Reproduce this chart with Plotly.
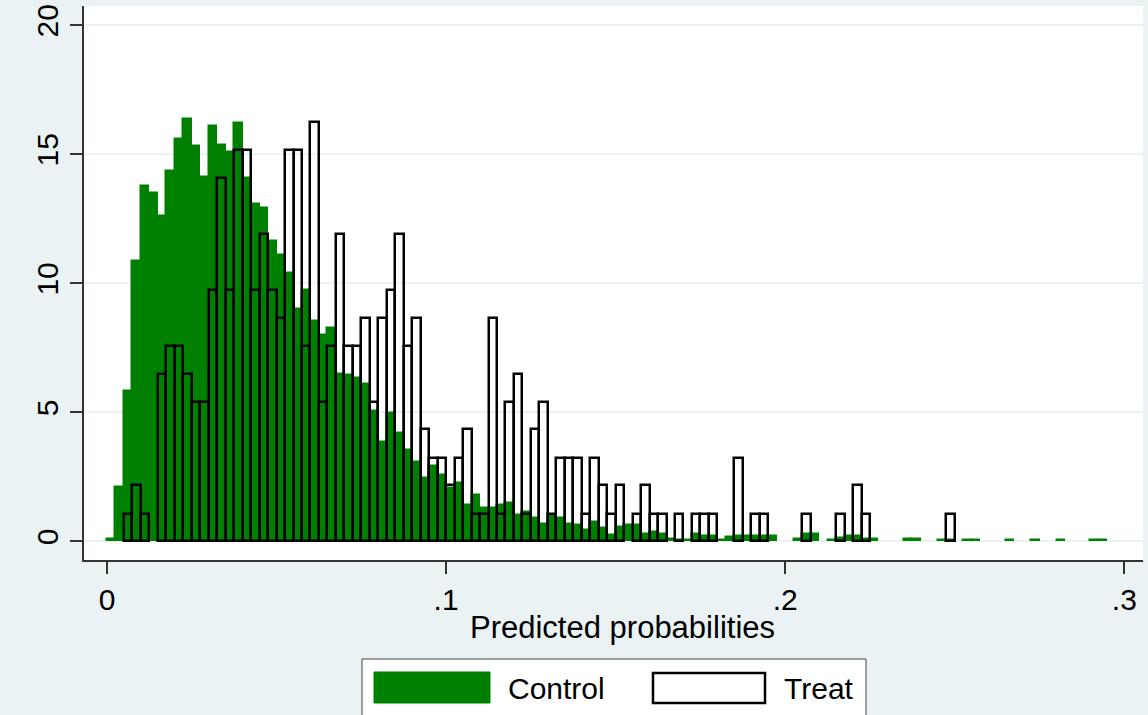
import plotly.graph_objects as go

# Histogram bins: width 0.0025 starting at 0 (predicted probability)
BIN_WIDTH = 0.0025
BIN_START = 0.0

# Density heights per bin, control group
control_density = [
    0.10, 2.11, 5.84, 10.86, 13.79, 13.49, 12.60, 14.37, 15.59, 16.38,
    15.33, 14.14, 16.10, 15.37, 15.11, 16.21, 14.07, 13.06, 12.94, 11.65,
    11.09, 10.41, 9.01, 9.73, 8.56, 7.99, 8.26, 6.50, 6.45, 6.33,
    6.11, 5.06, 3.85, 4.99, 4.20, 3.55, 3.06, 2.45, 2.92, 2.57,
    2.08, 2.27, 1.43, 1.78, 1.30, 1.30, 1.43, 1.49, 1.01, 1.14,
    0.91, 0.67, 0.97, 0.91, 0.67, 0.62, 0.45, 0.74, 0.52, 0.23,
    0.56, 0.62, 0.62, 0.29, 0.35, 0.29, 0.10, 0.06, 0.06, 0.27,
    0.22, 0.22, 0.07, 0.17, 0.22, 0.22, 0.22, 0.22, 0.22, 0.00,
    0.00, 0.10, 0.29, 0.29, 0.00, 0.07, 0.13, 0.22, 0.22, 0.10,
    0.10, 0.00, 0.00, 0.00, 0.10, 0.10, 0.00, 0.00, 0.05, 0.05,
    0.00, 0.05, 0.05, 0.00, 0.00, 0.00, 0.05, 0.00, 0.00, 0.05,
    0.00, 0.00, 0.05, 0.00, 0.00, 0.00, 0.05, 0.05,
]

# Density heights per bin, treated group
treat_density = [
    0.00, 0.00, 1.08, 2.17, 1.08, 0.00, 6.50, 7.59, 7.59, 6.50,
    5.42, 5.42, 9.76, 14.09, 9.76, 15.18, 15.18, 9.76, 11.92, 9.76,
    8.67, 15.18, 15.18, 7.59, 16.26, 5.42, 7.59, 11.92, 7.59, 7.59,
    8.67, 5.42, 8.67, 9.76, 11.92, 7.59, 8.67, 4.34, 3.25, 3.25,
    2.17, 3.25, 4.34, 1.08, 1.08, 8.67, 1.08, 5.42, 6.50, 1.08,
    4.34, 5.42, 1.08, 3.25, 3.25, 3.25, 1.08, 3.25, 2.17, 1.08,
    2.17, 0.00, 1.08, 2.17, 1.08, 1.08, 0.00, 1.08, 0.00, 1.08,
    1.08, 1.08, 0.00, 0.00, 3.25, 0.00, 1.08, 1.08, 0.00, 0.00,
    0.00, 0.00, 1.08, 0.00, 0.00, 0.00, 1.08, 0.00, 2.17, 1.08,
    0.00, 0.00, 0.00, 0.00, 0.00, 0.00, 0.00, 0.00, 0.00, 1.08,
]

x_tick_vals = [0, 0.1, 0.2, 0.3]
x_tick_text = ["0", ".1", ".2", ".3"]
y_tick_vals = [0, 5, 10, 15, 20]
y_tick_text = ["0", "5", "10", "15", "20"]

x_title = "Predicted probabilities"
legend_labels = ["Control", "Treat"]

GREEN = "#008000"
BG = "#EAF2F3"
FONT = "Arial, Liberation Sans, sans-serif"


def nonzero_bins(heights):
    xs, ys = [], []
    for i, h in enumerate(heights):
        if h > 0:
            xs.append(BIN_START + (i + 0.5) * BIN_WIDTH)
            ys.append(h)
    return xs, ys


cx, cy = nonzero_bins(control_density)
tx, ty = nonzero_bins(treat_density)

fig = go.Figure()
fig.add_trace(go.Bar(
    x=cx, y=cy, width=[BIN_WIDTH] * len(cx),
    marker=dict(color=GREEN, line=dict(color=GREEN, width=1.5)),
    name=legend_labels[0], showlegend=False,
))
fig.add_trace(go.Bar(
    x=tx, y=ty, width=[BIN_WIDTH] * len(tx),
    marker=dict(color="rgba(0,0,0,0)", line=dict(color="black", width=2.5)),
    name=legend_labels[1], showlegend=False,
))

W, H = 1148, 715
L, R, T, B = 84, 1143, 6, 560  # plot area in pixels


def px(x):
    return (x - L) / (R - L)


def py(y):
    return (B - y) / (B - T)


shapes = [
    # legend frame
    dict(type="rect", xref="paper", yref="paper",
         x0=px(362), x1=px(866), y0=py(720), y1=py(659),
         line=dict(color="#404040", width=1), fillcolor="white", layer="above"),
    # control key
    dict(type="rect", xref="paper", yref="paper",
         x0=px(374), x1=px(490), y0=py(703), y1=py(672),
         line=dict(color=GREEN, width=1), fillcolor=GREEN, layer="above"),
    # treat key
    dict(type="rect", xref="paper", yref="paper",
         x0=px(653), x1=px(765), y0=py(703), y1=py(673),
         line=dict(color="black", width=2.5), fillcolor="white", layer="above"),
]

annotations = [
    dict(text=x_title, xref="paper", yref="paper", x=px(622), y=py(627),
         xanchor="center", yanchor="middle", showarrow=False,
         font=dict(family=FONT, size=31, color="black")),
    dict(text=legend_labels[0], xref="paper", yref="paper", x=px(506), y=py(688),
         xanchor="left", yanchor="middle", showarrow=False,
         font=dict(family=FONT, size=30, color="black")),
    dict(text=legend_labels[1], xref="paper", yref="paper", x=px(782), y=py(688),
         xanchor="left", yanchor="middle", showarrow=False,
         font=dict(family=FONT, size=30, color="black")),
]

fig.update_layout(
    width=W, height=H,
    margin=dict(l=L, r=W - R, t=T, b=H - B, pad=0),
    paper_bgcolor=BG, plot_bgcolor="white",
    barmode="overlay", bargap=0,
    showlegend=False,
    font=dict(family=FONT, size=30, color="black"),
    shapes=shapes, annotations=annotations,
    xaxis=dict(
        range=[-0.00678, 0.3055], tickvals=x_tick_vals, ticktext=x_tick_text,
        showgrid=False, zeroline=False, showline=True, linecolor="#333333",
        linewidth=1.5, ticks="outside", ticklen=12, tickwidth=1.5,
        tickcolor="#333333", tickfont=dict(size=30),
    ),
    yaxis=dict(
        range=[-0.72, 20.75], tickvals=y_tick_vals, ticktext=y_tick_text,
        tickangle=-90, showgrid=True, gridcolor=BG, gridwidth=2,
        zeroline=False, showline=True, linecolor="#333333", linewidth=1.5,
        ticks="outside", ticklen=12, tickwidth=1.5, tickcolor="#333333",
        tickfont=dict(size=30),
    ),
)

fig.write_html("out.html")
